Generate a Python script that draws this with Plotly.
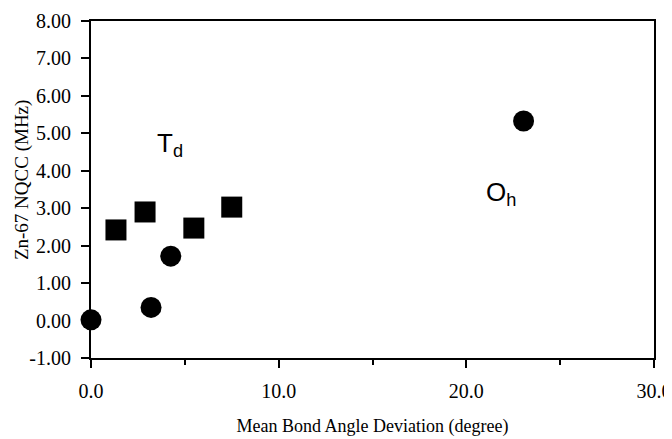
import plotly.graph_objects as go

circle_x = [0.0, 3.2, 4.25, 23.05]
circle_y = [0.02, 0.35, 1.72, 5.33]
square_x = [1.33, 2.88, 5.48, 7.5]
square_y = [2.42, 2.90, 2.47, 3.03]

x_ticks = [0, 10, 20, 30]
y_ticks = [-1, 0, 1, 2, 3, 4, 5, 6, 7, 8]

fig = go.Figure()
fig.add_trace(go.Scatter(x=square_x, y=square_y, mode="markers",
                         marker=dict(symbol="square", size=21, color="black"),
                         showlegend=False, cliponaxis=False))
fig.add_trace(go.Scatter(x=circle_x, y=circle_y, mode="markers",
                         marker=dict(symbol="circle", size=21, color="black"),
                         showlegend=False, cliponaxis=False))

serif = "Times New Roman, Liberation Serif, serif"
sans = "Arial, Liberation Sans, sans-serif"
fig.update_layout(
    width=664, height=431,
    margin=dict(l=83, r=18, t=13, b=81),
    paper_bgcolor="white", plot_bgcolor="white",
    font=dict(family=serif, size=20, color="black"),
    xaxis=dict(range=[0, 30], tickvals=x_ticks, ticktext=[f"{v:.1f}" for v in x_ticks],
               tickfont=dict(family=serif, size=20, color="black"),
               automargin=False, ticklabelstandoff=6,
               showgrid=False, zeroline=False, showline=True, mirror=True,
               linecolor="black", linewidth=2, ticks="outside", ticklen=8,
               tickwidth=1.5, tickcolor="black",
               minor=dict(tickvals=[5, 15, 25], ticks="outside", ticklen=5, tickcolor="black"),
               title=dict(text="Mean Bond Angle Deviation (degree)", standoff=18,
                          font=dict(family=serif, size=18, color="black"))),
    yaxis=dict(range=[-1, 8], tickvals=y_ticks,
               ticktext=[f"{v:.2f}" for v in y_ticks],
               tickfont=dict(family=serif, size=20, color="black"),
               automargin=False, ticklabelstandoff=6,
               showgrid=False, zeroline=False, showline=True, mirror=True,
               linecolor="black", linewidth=2, ticks="outside", ticklen=8,
               tickwidth=1.5, tickcolor="black"),
    annotations=[
        dict(x=0, y=0.528, xref="paper", yref="paper", xshift=-69, textangle=-90,
             xanchor="center", yanchor="middle",
             text="Zn-67 NQCC (MHz)", showarrow=False,
             font=dict(family=serif, size=19, color="black")),
        dict(x=3.4, y=4.69, xref="x", yref="y", xanchor="left", yanchor="middle",
             text="T<sub>d</sub>", showarrow=False,
             font=dict(family=sans, size=26, color="black")),
        dict(x=20.95, y=3.38, xref="x", yref="y", xanchor="left", yanchor="middle",
             text="O<sub>h</sub>", showarrow=False,
             font=dict(family=sans, size=26, color="black")),
    ],
)
fig.write_html("out.html")
